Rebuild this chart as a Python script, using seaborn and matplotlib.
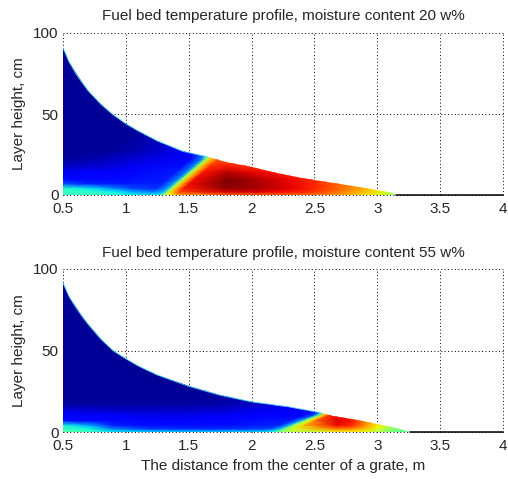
import numpy as np
import matplotlib
matplotlib.use("Agg")
import matplotlib.pyplot as plt
import seaborn as sns
from matplotlib.patches import Polygon

# ---------------- data ----------------
# Fuel bed upper surface (layer height, cm) vs distance from grate centre (m)
bed20_x = [0.5, 0.55, 0.6, 0.65, 0.7, 0.8, 0.9, 1.0, 1.1, 1.25, 1.45, 1.65,
           1.8, 2.0, 2.2, 2.4, 2.65, 2.9, 3.12, 3.15, 4.0]
bed20_h = [91, 82, 75, 69.5, 64.5, 56, 49.5, 44, 39.5, 33.5, 27, 23.5,
           20.5, 17, 13.8, 10.8, 7.5, 4.3, 1.3, 0, 0]

bed55_x = [0.5, 0.55, 0.6, 0.65, 0.7, 0.8, 0.9, 1.0, 1.1, 1.25, 1.5, 1.75,
           2.0, 2.3, 2.55, 2.65, 2.8, 3.0, 3.15, 3.26, 4.0]
bed55_h = [91.5, 83, 76.5, 71, 66, 57, 50, 45, 40.5, 35, 28, 22.5,
           18.5, 15.4, 11.8, 10, 7.8, 5, 2.6, 0, 0]

# Ignition front (boundary between cold fuel and burning zone): x (m) at height h (cm)
front20_h = [0, 23]
front20_x = [1.30, 1.65]
front55_h = [0, 11.5]
front55_x = [2.20, 2.57]

# Relative temperature (0 = coldest, 1 = hottest).
# Rows = heights; columns = left cold-zone points, points around the front, right points.
grid20_h = [0, 2, 4, 7, 10, 14, 18, 22, 27, 35, 50, 95]
grid20_left_x = [0.5, 0.7, 0.9, 1.05]
grid20_front_dx = [-0.12, -0.035, 0.0, 0.035, 0.10]
grid20_right_x = [1.8, 1.95, 2.1, 2.3, 2.5, 2.7, 2.9, 3.05, 3.15]
temp20 = [
    [0.42, 0.42, 0.40, 0.36,  0.35, 0.36, 0.52, 0.64, 0.72,  0.80, 0.80, 0.80, 0.80, 0.78, 0.74, 0.68, 0.60, 0.52],
    [0.42, 0.41, 0.37, 0.30,  0.25, 0.30, 0.52, 0.68, 0.84,  0.92, 0.92, 0.91, 0.89, 0.85, 0.78, 0.70, 0.62, 0.55],
    [0.40, 0.36, 0.27, 0.20,  0.17, 0.28, 0.52, 0.70, 0.88,  0.98, 0.97, 0.95, 0.91, 0.87, 0.80, 0.72, 0.64, 0.55],
    [0.20, 0.16, 0.15, 0.15,  0.16, 0.28, 0.52, 0.70, 0.90,  1.00, 0.98, 0.95, 0.91, 0.87, 0.80, 0.72, 0.64, 0.55],
    [0.13, 0.13, 0.13, 0.14,  0.15, 0.26, 0.52, 0.70, 0.90,  0.99, 0.97, 0.94, 0.90, 0.86, 0.80, 0.72, 0.64, 0.55],
    [0.10, 0.11, 0.12, 0.13,  0.15, 0.25, 0.52, 0.70, 0.89,  0.95, 0.92, 0.90, 0.87, 0.84, 0.80, 0.72, 0.64, 0.55],
    [0.06, 0.07, 0.08, 0.10,  0.14, 0.25, 0.52, 0.70, 0.86,  0.88, 0.86, 0.85, 0.85, 0.84, 0.80, 0.72, 0.64, 0.55],
    [0.03, 0.04, 0.06, 0.08,  0.13, 0.25, 0.52, 0.70, 0.82,  0.82, 0.82, 0.82, 0.82, 0.82, 0.80, 0.72, 0.64, 0.55],
    [0.02, 0.02, 0.03, 0.04,  0.11, 0.20, 0.40, 0.60, 0.80,  0.82, 0.82, 0.82, 0.82, 0.82, 0.80, 0.72, 0.64, 0.55],
    [0.02, 0.02, 0.02, 0.03,  0.08, 0.12, 0.20, 0.50, 0.80,  0.82, 0.82, 0.82, 0.82, 0.82, 0.80, 0.72, 0.64, 0.55],
    [0.02, 0.02, 0.02, 0.02,  0.02, 0.02, 0.02, 0.02, 0.02,  0.02, 0.02, 0.02, 0.02, 0.02, 0.02, 0.02, 0.02, 0.02],
    [0.02, 0.02, 0.02, 0.02,  0.02, 0.02, 0.02, 0.02, 0.02,  0.02, 0.02, 0.02, 0.02, 0.02, 0.02, 0.02, 0.02, 0.02],
]

grid55_h = [0, 2, 4, 7, 10, 13, 17, 22, 30, 45, 95]
grid55_left_x = [0.5, 0.7, 0.9, 1.2, 1.5, 1.8, 2.0]
grid55_front_dx = [-0.12, -0.04, 0.0, 0.04, 0.09]
grid55_right_x = [2.68, 2.8, 2.9, 3.0, 3.1, 3.26]
temp55 = [
    [0.45, 0.42, 0.36, 0.34, 0.34, 0.34, 0.35,  0.36, 0.40, 0.45, 0.50, 0.55,  0.63, 0.64, 0.62, 0.57, 0.50, 0.45],
    [0.42, 0.38, 0.25, 0.18, 0.17, 0.17, 0.18,  0.20, 0.30, 0.48, 0.56, 0.62,  0.78, 0.76, 0.70, 0.62, 0.53, 0.45],
    [0.38, 0.30, 0.16, 0.14, 0.14, 0.14, 0.15,  0.16, 0.28, 0.50, 0.60, 0.70,  0.90, 0.86, 0.76, 0.66, 0.56, 0.50],
    [0.14, 0.13, 0.13, 0.13, 0.13, 0.13, 0.14,  0.15, 0.28, 0.50, 0.64, 0.80,  0.92, 0.88, 0.78, 0.68, 0.58, 0.50],
    [0.12, 0.12, 0.11, 0.10, 0.10, 0.11, 0.12,  0.13, 0.20, 0.45, 0.70, 0.86,  0.90, 0.86, 0.76, 0.66, 0.56, 0.50],
    [0.09, 0.08, 0.07, 0.07, 0.07, 0.08, 0.10,  0.13, 0.14, 0.30, 0.65, 0.80,  0.84, 0.82, 0.74, 0.64, 0.56, 0.50],
    [0.03, 0.03, 0.03, 0.03, 0.03, 0.04, 0.06,  0.10, 0.12, 0.20, 0.60, 0.78,  0.82, 0.80, 0.72, 0.64, 0.56, 0.50],
    [0.02, 0.02, 0.02, 0.02, 0.02, 0.03, 0.04,  0.08, 0.10, 0.20, 0.60, 0.78,  0.80, 0.80, 0.72, 0.64, 0.56, 0.50],
    [0.02, 0.02, 0.02, 0.02, 0.02, 0.02, 0.02,  0.02, 0.02, 0.02, 0.02, 0.02,  0.02, 0.02, 0.02, 0.02, 0.02, 0.02],
    [0.02, 0.02, 0.02, 0.02, 0.02, 0.02, 0.02,  0.02, 0.02, 0.02, 0.02, 0.02,  0.02, 0.02, 0.02, 0.02, 0.02, 0.02],
    [0.02, 0.02, 0.02, 0.02, 0.02, 0.02, 0.02,  0.02, 0.02, 0.02, 0.02, 0.02,  0.02, 0.02, 0.02, 0.02, 0.02, 0.02],
]

titles = ["Fuel bed temperature profile, moisture content 20 w%",
          "Fuel bed temperature profile, moisture content 55 w%"]
x_ticks = [0.5, 1, 1.5, 2, 2.5, 3, 3.5, 4]
x_tick_labels = ["0.5", "1", "1.5", "2", "2.5", "3", "3.5", "4"]
y_ticks = [0, 50, 100]
y_tick_labels = ["0", "50", "100"]
x_label = "The distance from the center of a grate, m"
y_label = "Layer height, cm"

# ---------------- plotting ----------------
sns.set_style("white")
plt.rcParams['font.family'] = ['Liberation Sans', 'DejaVu Sans']
FS = 11

W, H = 508, 479
fig = plt.figure(figsize=(W / 100, H / 100), dpi=100)
ax1 = fig.add_axes([63 / W, (H - 195) / H, 440 / W, 162 / H])
ax2 = fig.add_axes([63 / W, (H - 432) / H, 440 / W, 163 / H])


def draw(ax, gh, left_x, front_dx, right_x, temp, fh, fx, bx, bh, title):
    gh = np.asarray(gh, float)
    front = np.interp(gh, fh, fx)
    X = np.array([list(left_x) + [f + d for d in front_dx] + list(right_x) for f in front])
    Y = np.repeat(gh[:, None], X.shape[1], axis=1)
    mesh = ax.pcolormesh(X, Y, np.array(temp), cmap="jet", vmin=0, vmax=1,
                         shading="gouraud", zorder=3)
    bx = np.asarray(bx, float)
    bh = np.asarray(bh, float)
    pos = bh > 0
    last = int(np.argmax(~pos))
    px = list(bx[:last + 1])
    ph = list(bh[:last + 1])
    verts = list(zip(px, ph)) + [(px[-1], 0.0), (px[0], 0.0)]
    clip = Polygon(verts, closed=True, transform=ax.transData,
                   facecolor="none", edgecolor="none")
    ax.add_patch(clip)
    mesh.set_clip_path(clip)
    # light fringe along the cold part of the bed surface
    cold = bx <= fx[-1]
    ax.plot(bx[cold], bh[cold], color="#40d8ff", lw=0.7, alpha=0.8, zorder=4,
            solid_capstyle="butt")
    # grate line where the bed has no fuel
    zero = ~pos
    ax.plot(bx[zero], bh[zero], color="black", lw=1.1, zorder=4, clip_on=False)

    ax.set_xlim(0.5, 4)
    ax.set_ylim(0, 100)
    ax.set_xticks(x_ticks)
    ax.set_xticklabels(x_tick_labels)
    ax.set_yticks(y_ticks)
    ax.set_yticklabels(y_tick_labels)
    ax.set_axisbelow(True)
    ax.grid(True, color="black", linestyle=(0, (1, 2.5)), linewidth=0.7, clip_on=False)
    for s in ax.spines.values():
        s.set_visible(False)
    ax.tick_params(direction="in", length=4, width=0.7, color="black",
                   labelsize=FS, top=False, right=False)
    ax.tick_params(axis="x", pad=5)
    ax.tick_params(axis="y", pad=3)
    ax.set_title(title, fontsize=FS, pad=9)
    ax.set_ylabel(y_label, fontsize=FS)
    ax.yaxis.set_label_coords(-0.085, 0.5)


draw(ax1, grid20_h, grid20_left_x, grid20_front_dx, grid20_right_x, temp20,
     front20_h, front20_x, bed20_x, bed20_h, titles[0])
draw(ax2, grid55_h, grid55_left_x, grid55_front_dx, grid55_right_x, temp55,
     front55_h, front55_x, bed55_x, bed55_h, titles[1])
ax2.set_xlabel(x_label, fontsize=FS)
ax2.xaxis.set_label_coords(0.5, -0.165)

fig.savefig("out.png", dpi=100, facecolor="white")
